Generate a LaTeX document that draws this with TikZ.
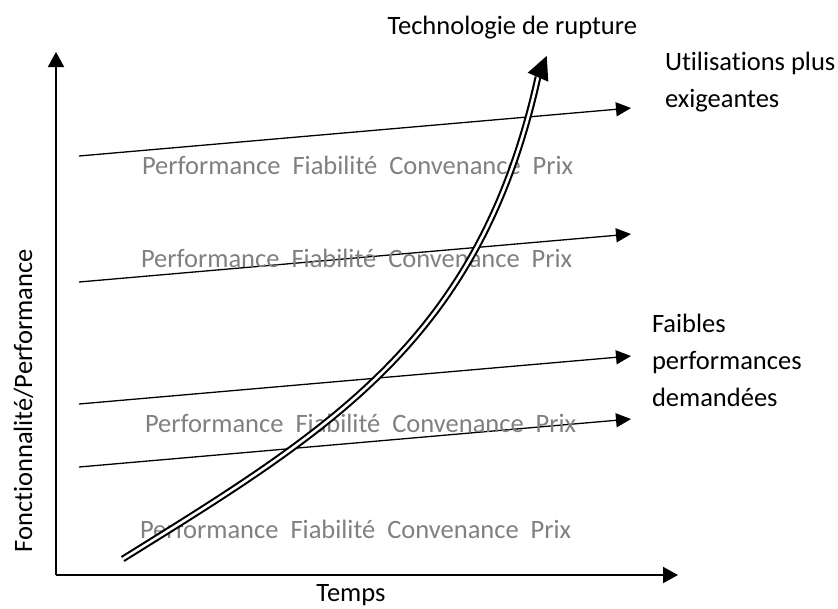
\documentclass[tikz,border=0pt]{standalone}
\usepackage{fontspec}
\setmainfont{Carlito}[Ligatures=NoCommon]
\usetikzlibrary{arrows.meta}
\begin{document}
\begin{tikzpicture}[x=1pt,y=-1pt,
  every node/.style={inner sep=0pt,outer sep=0pt,font=\fontsize{26.5}{37}\selectfont},
  axis/.style={line width=2pt,-{Triangle[length=15pt,width=16pt]}},
  demand/.style={line width=1.3pt,-{Triangle[length=15pt,width=14pt]}},
  techline/.style={line width=2.1pt,double=white,double distance=2.6pt},
  grey/.style={text=black!50,anchor=base west},
  lbl/.style={anchor=base west,align=left}]
\useasboundingbox (0,0) rectangle (838,608);
% axes
\coordinate (O) at (56,575);
\coordinate (Ytip) at (56,52);
\coordinate (Xtip) at (678,575);
\draw[axis] (O) -- (Ytip);
\draw[axis] (O) -- (Xtip);
% demand lines
\coordinate (a1) at (79,156);  \coordinate (b1) at (631,108);
\coordinate (a2) at (79,282);  \coordinate (b2) at (631,234);
\coordinate (a3) at (79,404);  \coordinate (b3) at (631,356);
\coordinate (a4) at (79,467);  \coordinate (b4) at (631,419);
\draw[demand] (a1) -- (b1);
\draw[demand] (a2) -- (b2);
\draw[demand] (a3) -- (b3);
\draw[demand] (a4) -- (b4);
% grey texts
\node[grey] (g1) at (142,174.5) {Performance~~Fiabilité~~Convenance~~Prix};
\node[grey] (g2) at (141,267.5) {Performance~~Fiabilité~~Convenance~~Prix};
\node[grey] (g3) at (145,432) {Performance~~Fiabilité~~Convenance~~Prix};
\node[grey] (g4) at (140,538) {Performance~~Fiabilité~~Convenance~~Prix};
% disruptive technology curve
\coordinate (c0) at (122.7,559);
\coordinate (c1) at (538,77);
\draw[techline] (c0) .. controls (330,430) and (480,340) .. (c1);
\fill (546.7,56) -- (527.7,72.7) -- (548.3,81.7) -- cycle;
% labels
\node[lbl] (tech) at (387.5,34) {Technologie de rupture};
\node[lbl] (util) at (665,107.5) {Utilisations plus\\exigeantes};
\node[lbl] (faib) at (652,406) {Faibles\\performances\\demandées};
\node[anchor=base] (temps) at (351,601) {Temps};
\node[anchor=base,rotate=90] (ylab) at (32,401) {Fonctionnalité/Performance};
\end{tikzpicture}
\end{document}
